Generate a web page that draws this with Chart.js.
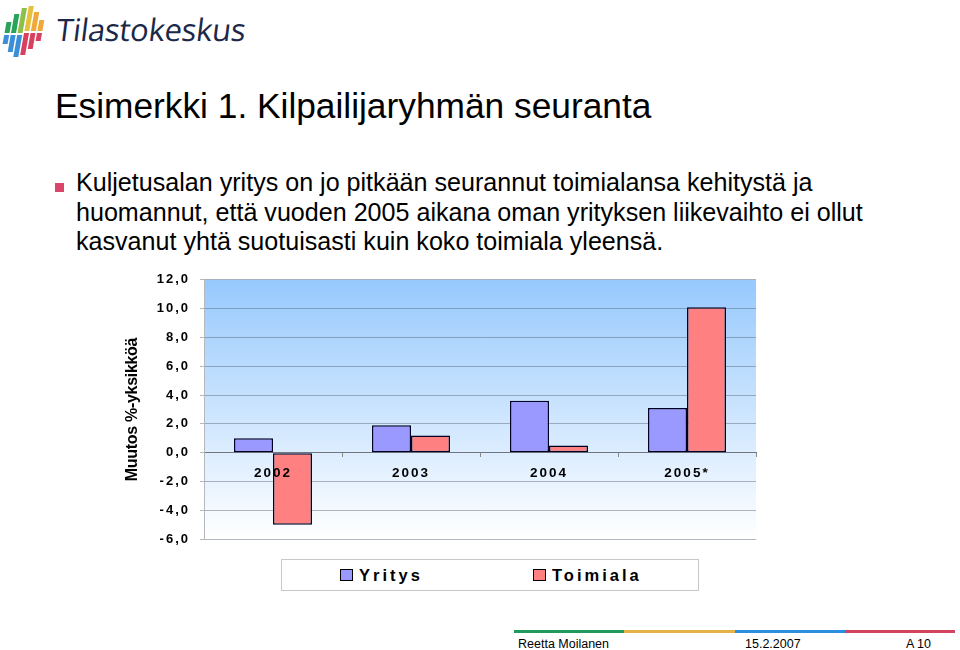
<!DOCTYPE html>
<html>
<head>
<meta charset="utf-8">
<script src="https://cdn.jsdelivr.net/npm/chart.js@4.4.1/dist/chart.umd.min.js"></script>
<style>
html,body{margin:0;padding:0;background:#fff;}
#page{position:relative;width:960px;height:650px;overflow:hidden;font-family:"Liberation Sans",Arial,sans-serif;color:#000;}
#logo{position:absolute;left:0;top:2px;}
#brand{position:absolute;left:54px;top:8px;font-family:"Open Sans","DejaVu Sans",sans-serif;font-size:31px;color:#1b2848;letter-spacing:-0.3px;transform:skewX(-7deg);transform-origin:left bottom;white-space:nowrap;}
#title{position:absolute;left:55px;top:86px;font-size:35.3px;line-height:40px;white-space:nowrap;}
#bullet{position:absolute;left:55px;top:183px;width:9px;height:9px;background:#d9466a;}
#text{position:absolute;left:76px;top:168px;font-size:25.1px;line-height:29.5px;white-space:nowrap;}
#chartbox{position:absolute;left:110px;top:262px;width:660px;height:295px;}
#legend{position:absolute;left:281px;top:559px;width:418px;height:32px;border:1px solid #c8c8c8;box-sizing:border-box;}
.li{position:absolute;top:6px;font-weight:bold;font-size:16.5px;letter-spacing:3px;white-space:nowrap;line-height:19px;}
.li i{display:inline-block;width:11px;height:10px;border:1px solid #000;margin-right:6px;vertical-align:0px;}
#footline{position:absolute;left:514px;top:630px;height:3px;width:441px;display:flex;}
#footline div{flex:1;height:3px;}
.foot{position:absolute;top:637px;font-size:12.5px;line-height:14px;white-space:nowrap;}
</style>
</head>
<body>
<div id="page">
  <svg id="logo" width="50" height="60" viewBox="0 0 50 60">
    <g transform="skewX(-10) translate(8,0)">
      <rect x="2" y="20" width="5" height="11" fill="#2aa35a"/>
      <rect x="2" y="33" width="5" height="9" fill="#3a8fd8"/>
      <rect x="8.5" y="12" width="5" height="19" fill="#2aa35a"/>
      <rect x="8.5" y="33" width="5" height="17" fill="#3a8fd8"/>
      <rect x="15" y="6" width="5" height="25" fill="#8cc04a"/>
      <rect x="15" y="33" width="5" height="22" fill="#3a8fd8"/>
      <rect x="21.5" y="4" width="5" height="25" fill="#e8c040"/>
      <rect x="21.5" y="31" width="5" height="22" fill="#d84060"/>
      <rect x="28" y="10" width="5" height="19" fill="#f0a838"/>
      <rect x="28" y="31" width="5" height="16" fill="#d84060"/>
      <rect x="34.5" y="18" width="5" height="11" fill="#f0a838"/>
      <rect x="34.5" y="31" width="5" height="8" fill="#d84060"/>
    </g>
  </svg>
  <div id="brand">Tilastokeskus</div>
  <div id="title">Esimerkki 1. Kilpailijaryhmän seuranta</div>
  <div id="bullet"></div>
  <div id="text">Kuljetusalan yritys on jo pitkään seurannut toimialansa kehitystä ja<br>huomannut, että vuoden 2005 aikana oman yrityksen liikevaihto ei ollut<br>kasvanut yhtä suotuisasti kuin koko toimiala yleensä.</div>
  <div id="chartbox"><canvas id="c" width="660" height="295"></canvas></div>
  <div id="legend"></div>
  <div id="footline"><div style="background:#1f9a5c"></div><div style="background:#e2b246"></div><div style="background:#2b8fe0"></div><div style="background:#d2445e"></div></div>
  <div class="foot" style="left:518px">Reetta Moilanen</div>
  <div class="foot" style="left:745px">15.2.2007</div>
  <div class="foot" style="left:906px">A 10</div>
</div>
<script>
// ---- data ----
const categories = ['2002', '2003', '2004', '2005*'];
const seriesNames = ['Yritys', 'Toimiala'];
const yritysValues = [1.0, 1.9, 3.6, 3.1];
const toimialaValues = [-5.0, 1.2, 0.5, 10.1];
const yAxisTitle = 'Muutos %-yksikköä';
const yMin = -6, yMax = 12, yStep = 2;
const seriesColors = ['#9999FF', '#FF8080'];

const FONT = '"Liberation Sans", Arial, sans-serif';

const plotBackground = {
  id: 'plotBackground',
  beforeDraw(chart) {
    const {ctx, chartArea: a} = chart;
    ctx.save();
    const g = ctx.createLinearGradient(0, a.top, 0, a.bottom);
    g.addColorStop(0, '#97C9FD');
    g.addColorStop(1, '#FFFFFF');
    ctx.fillStyle = g;
    ctx.fillRect(a.left, a.top, a.right - a.left, a.bottom - a.top);
    ctx.restore();
    ctx.letterSpacing = '-0.3px';
  },
  afterDatasetsDraw(chart) { chart.ctx.letterSpacing = '2px'; },
  afterDraw(chart) { chart.ctx.letterSpacing = '0px'; }
};

const chart = new Chart(document.getElementById('c'), {
  type: 'bar',
  data: {
    labels: categories,
    datasets: [
      {label: seriesNames[0], data: yritysValues, backgroundColor: seriesColors[0]},
      {label: seriesNames[1], data: toimialaValues, backgroundColor: seriesColors[1]}
    ]
  },
  options: {
    responsive: false,
    animation: false,
    devicePixelRatio: 1,
    layout: {padding: {top: 17, right: 14, bottom: 17, left: 0}},
    datasets: {bar: {categoryPercentage: 0.565, barPercentage: 1.0, borderColor: '#000022', borderWidth: 1.5, borderSkipped: false}},
    plugins: {legend: {display: false}, tooltip: {enabled: false}},
    scales: {
      x: {
        position: {y: 0},
        ticks: {color: '#000', font: {family: FONT, size: 13.5, weight: 'bold'}, padding: 8, maxRotation: 0, autoSkip: false, z: 1},
        grid: {drawOnChartArea: false, drawTicks: true, tickLength: 4, color: '#8a8a8a'},
        border: {display: true, color: '#6e7680', width: 1}
      },
      y: {
        min: yMin, max: yMax,
        ticks: {stepSize: yStep, color: '#000', font: {family: FONT, size: 13, weight: 'bold'}, padding: 10, z: 1,
                callback: v => v.toFixed(1).replace('.', ',')},
        grid: {color: 'rgba(85,95,115,0.45)', tickLength: 4, lineWidth: 1},
        border: {display: true, color: '#b5b8bd'},
        title: {display: true, text: yAxisTitle, color: '#000', font: {family: FONT, size: 16, weight: 'bold'}, padding: {top: 13, bottom: 0}},
        afterFit(s) { s.width = 94; }
      }
    }
  },
  plugins: [plotBackground]
});

// legend built from the chart's datasets
const legendEl = document.getElementById('legend');
const legendX = [58, 251];
chart.data.datasets.forEach((ds, i) => {
  const item = document.createElement('div');
  item.className = 'li';
  item.style.left = legendX[i] + 'px';
  const sw = document.createElement('i');
  sw.style.background = ds.backgroundColor;
  item.appendChild(sw);
  item.appendChild(document.createTextNode(ds.label));
  legendEl.appendChild(item);
});
</script>
</body>
</html>
